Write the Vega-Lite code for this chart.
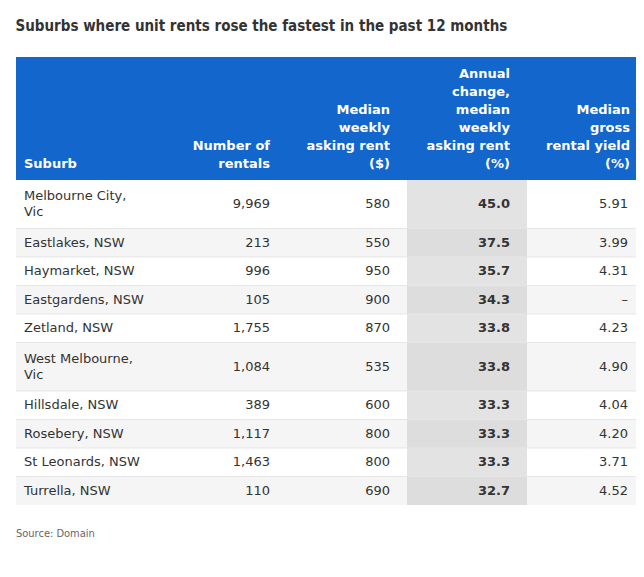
{
  "$schema": "https://vega.github.io/schema/vega-lite/v6.json",
  "width": 620,
  "height": 448,
  "autosize": "none",
  "padding": {"left": 16, "top": 57, "right": 8, "bottom": 72},
  "background": "white",
  "config": {"view": {"stroke": null}},
  "title": {
    "text": "Suburbs where unit rents rose the fastest in the past 12 months",
    "anchor": "start",
    "font": "DejaVu Sans Condensed",
    "fontSize": 15,
    "fontWeight": "bold",
    "color": "#333333",
    "offset": 23
  },
  "datasets": {
    "rows": [
      {"rank": 1, "suburb": "Melbourne City, Vic", "rentals": 9969, "rent": 580, "change": 45.0, "yield": 5.91},
      {"rank": 2, "suburb": "Eastlakes, NSW", "rentals": 213, "rent": 550, "change": 37.5, "yield": 3.99},
      {"rank": 3, "suburb": "Haymarket, NSW", "rentals": 996, "rent": 950, "change": 35.7, "yield": 4.31},
      {"rank": 4, "suburb": "Eastgardens, NSW", "rentals": 105, "rent": 900, "change": 34.3, "yield": null},
      {"rank": 5, "suburb": "Zetland, NSW", "rentals": 1755, "rent": 870, "change": 33.8, "yield": 4.23},
      {"rank": 6, "suburb": "West Melbourne, Vic", "rentals": 1084, "rent": 535, "change": 33.8, "yield": 4.90},
      {"rank": 7, "suburb": "Hillsdale, NSW", "rentals": 389, "rent": 600, "change": 33.3, "yield": 4.04},
      {"rank": 8, "suburb": "Rosebery, NSW", "rentals": 1117, "rent": 800, "change": 33.3, "yield": 4.20},
      {"rank": 9, "suburb": "St Leonards, NSW", "rentals": 1463, "rent": 800, "change": 33.3, "yield": 3.71},
      {"rank": 10, "suburb": "Turrella, NSW", "rentals": 110, "rent": 690, "change": 32.7, "yield": 4.52}
    ],
    "header": [
      {"col": "suburb", "label": ["Suburb"]},
      {"col": "rentals", "label": ["Number of", "rentals"]},
      {"col": "rent", "label": ["Median", "weekly", "asking rent", "($)"]},
      {"col": "change", "label": ["Annual", "change,", "median", "weekly", "asking rent", "(%)"]},
      {"col": "yield", "label": ["Median", "gross", "rental yield", "(%)"]}
    ],
    "source": [{"text": "Source: Domain"}]
  },
  "data": {"name": "rows"},
  "transform": [
    {"calculate": "length(datum.suburb) > 16 ? [slice(datum.suburb, 0, lastindexof(datum.suburb, ',') + 1), slice(datum.suburb, lastindexof(datum.suburb, ',') + 2)] : [datum.suburb]", "as": "suburbLines"},
    {"calculate": "length(datum.suburbLines) > 1 ? 1.7 : 1", "as": "u"},
    {"window": [{"op": "sum", "field": "u", "as": "y1"}], "sort": [{"field": "rank"}], "frame": [null, 0]},
    {"calculate": "datum.y1 - datum.u", "as": "y0"},
    {"calculate": "datum.y1 - datum.u / 2", "as": "ym"},
    {"calculate": "datum.ym - (length(datum.suburbLines) - 1) * 8 / 28.5088", "as": "sy"},
    {"calculate": "datum.yield == null ? '–' : format(datum.yield, '.2f')", "as": "yieldLabel"}
  ],
  "layer": [
    {
      "transform": [{"filter": "datum.rank % 2 == 0"}],
      "mark": {"type": "rect", "color": "#f5f5f5"},
      "encoding": {
        "y": {"field": "y0", "type": "quantitative", "scale": {"domain": [-4.3145, 11.4], "reverse": true, "zero": false, "nice": false}, "axis": null},
        "y2": {"field": "y1"}
      }
    },
    {
      "mark": {"type": "rect"},
      "encoding": {
        "x": {"datum": "change", "type": "nominal", "scale": {"type": "band", "domain": ["suburb", "rentals", "rent", "change", "yield"], "range": [31, 631], "paddingInner": 0, "paddingOuter": 0}, "axis": null},
        "y": {"field": "y0", "type": "quantitative", "scale": {"domain": [-4.3145, 11.4], "reverse": true, "zero": false, "nice": false}, "axis": null},
        "y2": {"field": "y1"},
        "color": {"condition": {"test": "datum.rank % 2 == 0", "value": "#dddddd"}, "value": "#e3e3e3"}
      }
    },
    {
      "transform": [{"filter": "datum.rank < 10"}],
      "mark": {"type": "rule", "color": "#e6e6e6", "strokeWidth": 1},
      "encoding": {
        "y": {"field": "y1", "type": "quantitative", "scale": {"domain": [-4.3145, 11.4], "reverse": true, "zero": false, "nice": false}, "axis": null}
      }
    },
    {
      "data": {"name": "source"},
      "mark": {"type": "rect", "color": "#1266cc"},
      "encoding": {
        "y": {"datum": -4.3145, "type": "quantitative", "scale": {"domain": [-4.3145, 11.4], "reverse": true, "zero": false, "nice": false}, "axis": null},
        "y2": {"datum": 0}
      }
    },
    {
      "data": {"name": "header"},
      "transform": [
        {"filter": "datum.col == 'suburb'"},
        {"calculate": "-(length(datum.label) - 1) * 18 / 28.5088", "as": "hy"}
      ],
      "mark": {"type": "text", "align": "left", "baseline": "bottom", "dx": -23, "dy": -9, "font": "DejaVu Sans", "fontSize": 13, "fontWeight": "bold", "color": "white", "lineHeight": 18},
      "encoding": {
        "x": {"field": "col", "type": "nominal", "bandPosition": 0, "scale": {"type": "band", "domain": ["suburb", "rentals", "rent", "change", "yield"], "range": [31, 631], "paddingInner": 0, "paddingOuter": 0}, "axis": null},
        "y": {"field": "hy", "type": "quantitative", "scale": {"domain": [-4.3145, 11.4], "reverse": true, "zero": false, "nice": false}, "axis": null},
        "text": {"field": "label", "type": "nominal"}
      }
    },
    {
      "data": {"name": "header"},
      "transform": [
        {"filter": "datum.col != 'suburb'"},
        {"calculate": "-(length(datum.label) - 1) * 18 / 28.5088", "as": "hy"}
      ],
      "mark": {"type": "text", "align": "right", "baseline": "bottom", "dx": -17, "dy": -9, "font": "DejaVu Sans", "fontSize": 13, "fontWeight": "bold", "color": "white", "lineHeight": 18},
      "encoding": {
        "x": {"field": "col", "type": "nominal", "bandPosition": 1, "scale": {"type": "band", "domain": ["suburb", "rentals", "rent", "change", "yield"], "range": [31, 631], "paddingInner": 0, "paddingOuter": 0}, "axis": null},
        "y": {"field": "hy", "type": "quantitative", "scale": {"domain": [-4.3145, 11.4], "reverse": true, "zero": false, "nice": false}, "axis": null},
        "text": {"field": "label", "type": "nominal"}
      }
    },
    {
      "mark": {"type": "text", "align": "left", "baseline": "middle", "dx": -23, "font": "DejaVu Sans", "fontSize": 13, "color": "#333333", "lineHeight": 16},
      "encoding": {
        "x": {"datum": "suburb", "type": "nominal", "bandPosition": 0, "scale": {"type": "band", "domain": ["suburb", "rentals", "rent", "change", "yield"], "range": [31, 631], "paddingInner": 0, "paddingOuter": 0}, "axis": null},
        "y": {"field": "sy", "type": "quantitative", "scale": {"domain": [-4.3145, 11.4], "reverse": true, "zero": false, "nice": false}, "axis": null},
        "text": {"field": "suburbLines", "type": "nominal"}
      }
    },
    {
      "mark": {"type": "text", "align": "right", "baseline": "middle", "dx": -17, "font": "DejaVu Sans", "fontSize": 13, "color": "#333333"},
      "encoding": {
        "x": {"datum": "rentals", "type": "nominal", "bandPosition": 1, "scale": {"type": "band", "domain": ["suburb", "rentals", "rent", "change", "yield"], "range": [31, 631], "paddingInner": 0, "paddingOuter": 0}, "axis": null},
        "y": {"field": "ym", "type": "quantitative", "scale": {"domain": [-4.3145, 11.4], "reverse": true, "zero": false, "nice": false}, "axis": null},
        "text": {"field": "rentals", "type": "quantitative", "format": ","}
      }
    },
    {
      "mark": {"type": "text", "align": "right", "baseline": "middle", "dx": -17, "font": "DejaVu Sans", "fontSize": 13, "color": "#333333"},
      "encoding": {
        "x": {"datum": "rent", "type": "nominal", "bandPosition": 1, "scale": {"type": "band", "domain": ["suburb", "rentals", "rent", "change", "yield"], "range": [31, 631], "paddingInner": 0, "paddingOuter": 0}, "axis": null},
        "y": {"field": "ym", "type": "quantitative", "scale": {"domain": [-4.3145, 11.4], "reverse": true, "zero": false, "nice": false}, "axis": null},
        "text": {"field": "rent", "type": "quantitative", "format": "d"}
      }
    },
    {
      "mark": {"type": "text", "align": "right", "baseline": "middle", "dx": -17, "font": "DejaVu Sans", "fontSize": 13, "fontWeight": "bold", "color": "#333333"},
      "encoding": {
        "x": {"datum": "change", "type": "nominal", "bandPosition": 1, "scale": {"type": "band", "domain": ["suburb", "rentals", "rent", "change", "yield"], "range": [31, 631], "paddingInner": 0, "paddingOuter": 0}, "axis": null},
        "y": {"field": "ym", "type": "quantitative", "scale": {"domain": [-4.3145, 11.4], "reverse": true, "zero": false, "nice": false}, "axis": null},
        "text": {"field": "change", "type": "quantitative", "format": ".1f"}
      }
    },
    {
      "mark": {"type": "text", "align": "right", "baseline": "middle", "dx": -19, "font": "DejaVu Sans", "fontSize": 13, "color": "#333333"},
      "encoding": {
        "x": {"datum": "yield", "type": "nominal", "bandPosition": 1, "scale": {"type": "band", "domain": ["suburb", "rentals", "rent", "change", "yield"], "range": [31, 631], "paddingInner": 0, "paddingOuter": 0}, "axis": null},
        "y": {"field": "ym", "type": "quantitative", "scale": {"domain": [-4.3145, 11.4], "reverse": true, "zero": false, "nice": false}, "axis": null},
        "text": {"field": "yieldLabel", "type": "nominal"}
      }
    },
    {
      "data": {"name": "source"},
      "mark": {"type": "text", "align": "left", "baseline": "middle", "dx": -31, "font": "DejaVu Sans Condensed", "fontSize": 11, "color": "#666666"},
      "encoding": {
        "x": {"datum": "suburb", "type": "nominal", "bandPosition": 0, "scale": {"type": "band", "domain": ["suburb", "rentals", "rent", "change", "yield"], "range": [31, 631], "paddingInner": 0, "paddingOuter": 0}, "axis": null},
        "y": {"datum": 12.4, "type": "quantitative", "scale": {"domain": [-4.3145, 11.4], "reverse": true, "zero": false, "nice": false}, "axis": null},
        "text": {"field": "text", "type": "nominal"}
      }
    }
  ]
}
